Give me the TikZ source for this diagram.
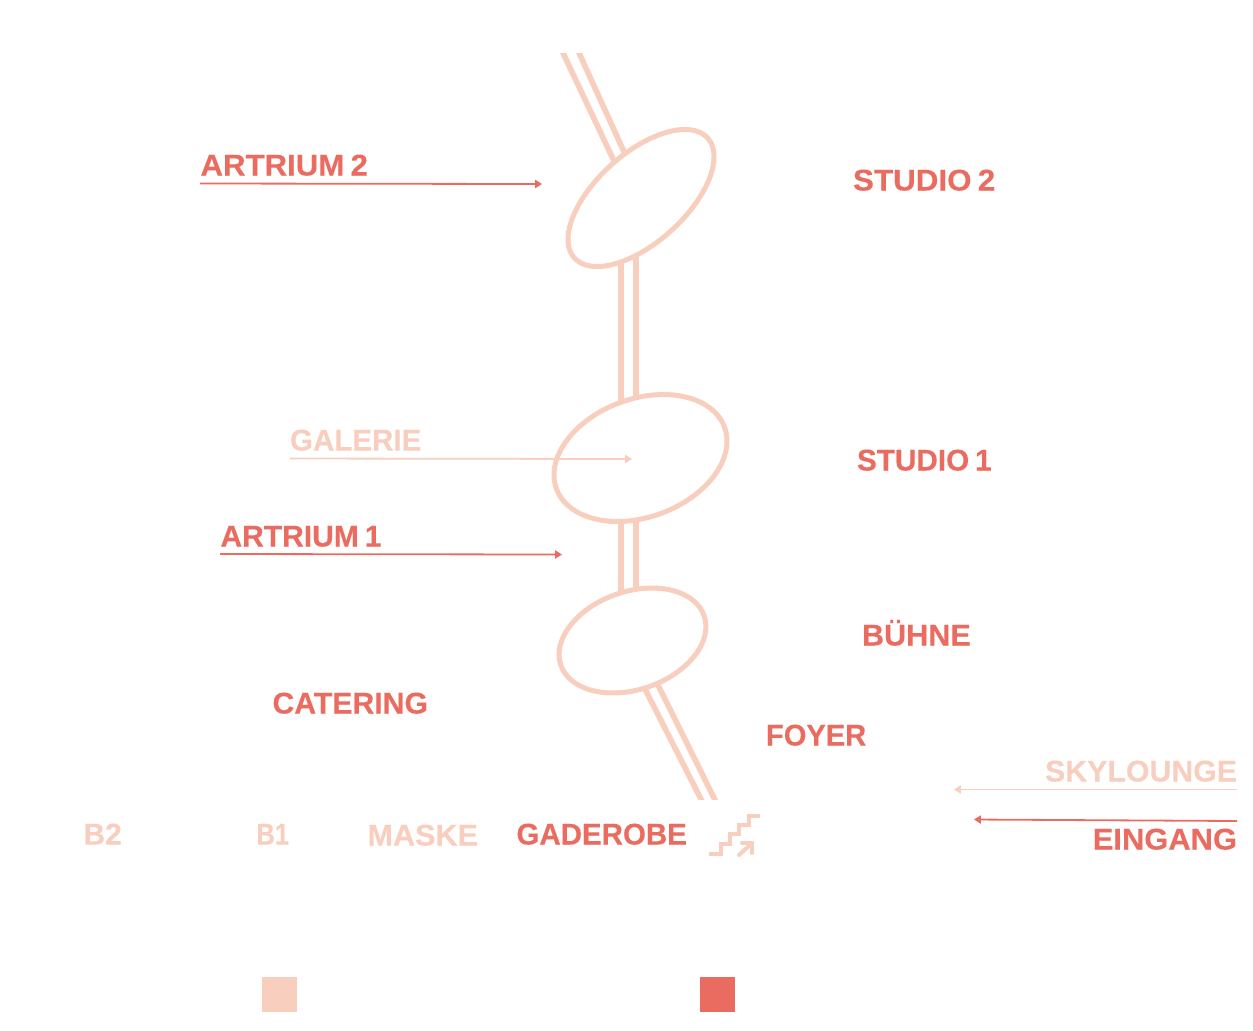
\documentclass[tikz,border=0pt]{standalone}
\usepackage{graphicx}
\usepackage{fontspec}
\setmainfont{Liberation Sans}[BoldFeatures={FakeBold=0.25}]
\usetikzlibrary{arrows.meta}
\definecolor{paleC}{HTML}{F8CEBF}
\definecolor{deepC}{HTML}{EA6C61}
\newcommand{\tgap}{\hspace{0.2em}}
\newcommand{\tfit}[2]{\scalebox{#1}[1]{#2}}
\tikzset{
  lab/.style={inner sep=0pt,outer sep=0pt,font=\fontsize{15}{18}\selectfont\bfseries},
  labL/.style={lab,anchor=base west},
  labR/.style={lab,anchor=base east},
  pale/.style={text=paleC},
  deep/.style={text=deepC},
  track/.style={draw=paleC,line width=2.8pt},
  vtrack/.style={draw=paleC,line width=3.1pt},
  room/.style={draw=paleC,line width=2.5pt},
  pointer/.style={line width=0.9pt,-{Triangle[length=3.4pt,width=4pt]}},
  swatch/.style={minimum size=17.5pt,inner sep=0pt,outer sep=0pt,anchor=north west}
}
\begin{document}
\begin{tikzpicture}[x=0.5pt,y=-0.5pt]
\useasboundingbox (0,0) rectangle (1253,1030);
% tracks (cut flat at the top and bottom)
\coordinate (t1a) at (558.3,43); \coordinate (t1b) at (614,161);
\coordinate (t2a) at (574.5,43); \coordinate (t2b) at (625,154);
\coordinate (m1a) at (621.3,260); \coordinate (m1b) at (621.3,403);
\coordinate (m2a) at (635.8,256); \coordinate (m2b) at (635.8,400);
\coordinate (n1a) at (621.3,520); \coordinate (n1b) at (621.3,592);
\coordinate (n2a) at (635.8,520); \coordinate (n2b) at (635.8,590);
\coordinate (b1a) at (645,689); \coordinate (b1b) at (706,809);
\coordinate (b2a) at (658,685); \coordinate (b2b) at (719.5,809);
\begin{scope}
\clip (500,53) rectangle (760,799);
\foreach \p/\q in {t1a/t1b,t2a/t2b,b1a/b1b,b2a/b2b}
  \path[track] (\p) -- (\q);
\foreach \p/\q in {m1a/m1b,m2a/m2b,n1a/n1b,n2a/n2b}
  \path[vtrack] (\p) -- (\q);
\end{scope}
% rooms
\draw[room] (641,198) ellipse [x radius=89.7,y radius=44.5,rotate=42];
\draw[room] (640.5,458) ellipse [x radius=89.5,y radius=59.1,rotate=20.1];
\draw[room] (632.5,640.5) ellipse [x radius=75.8,y radius=49,rotate=18.9];
% labels
\node[labL,deep] (art2) at (200.5,175.5) {\tfit{1.04}{ARTRIUM\tgap 2}};
\node[labL,deep] (stu2) at (853,190.5) {\tfit{1.046}{STUDIO\tgap 2}};
\node[labL,pale] (gal) at (290,450.5) {\tfit{0.985}{GALERIE}};
\node[labL,deep] (stu1) at (857,470.5) {\tfit{0.99}{STUDIO\tgap 1}};
\node[labL,deep] (art1) at (220.5,546.5) {ARTRIUM\tgap 1};
\node[labL,deep] (buh) at (862,645.5) {\tfit{1.02}{BÜHNE}};
\node[labL,deep] (cat) at (272.5,713.5) {\tfit{1.007}{CATERING}};
\node[labL,deep] (foy) at (766,745.5) {\tfit{0.97}{FOYER}};
\node[labR,pale] (sky) at (1237,781.5) {\tfit{1.01}{SKYLOUNGE}};
\node[labR,deep] (ein) at (1237,849.5) {\tfit{1.03}{EINGANG}};
\node[labL,pale] (b2) at (83.5,844.5) {B2};
\node[labL,pale] (b1) at (256.5,844.5) {\tfit{0.85}{B1}};
\node[labL,pale] (mas) at (367.5,845.5) {\tfit{1.02}{MASKE}};
\node[labL,deep] (gad) at (516.5,844.5) {\tfit{0.983}{GADEROBE}};
% pointers
\coordinate (pa2s) at (200,183.5); \coordinate (pa2e) at (542,184);
\coordinate (pgs) at (290,458.5); \coordinate (pge) at (632,459);
\coordinate (pa1s) at (220,554); \coordinate (pa1e) at (562,554.5);
\coordinate (pss) at (1237,789.5); \coordinate (pse) at (954,789.5);
\coordinate (pes) at (1237,821); \coordinate (pee) at (974,819.5);
\draw[pointer,draw=deepC,fill=deepC] (pa2s) -- (pa2e);
\draw[pointer,draw=paleC,fill=paleC] (pgs) -- (pge);
\draw[pointer,draw=deepC,fill=deepC] (pa1s) -- (pa1e);
\draw[pointer,draw=paleC,fill=paleC] (pss) -- (pse);
\draw[pointer,draw=deepC,fill=deepC] (pes) -- (pee);
% stairs
\draw[paleC,line width=2.4pt] (709,854) -- (721,854) -- (721,844) -- (730,844) -- (730,834) -- (739,834) -- (739,825) -- (749,825) -- (749,816) -- (760,816);
\draw[paleC,line width=2pt,line cap=round] (739,855) -- (752,843);
\draw[paleC,line width=2pt,line cap=round,line join=round] (742,843) -- (752,843) -- (752,853);
% swatches
\node[swatch,fill=paleC] (sw1) at (262,977) {};
\node[swatch,fill=deepC] (sw2) at (700,977) {};
\end{tikzpicture}
\end{document}
